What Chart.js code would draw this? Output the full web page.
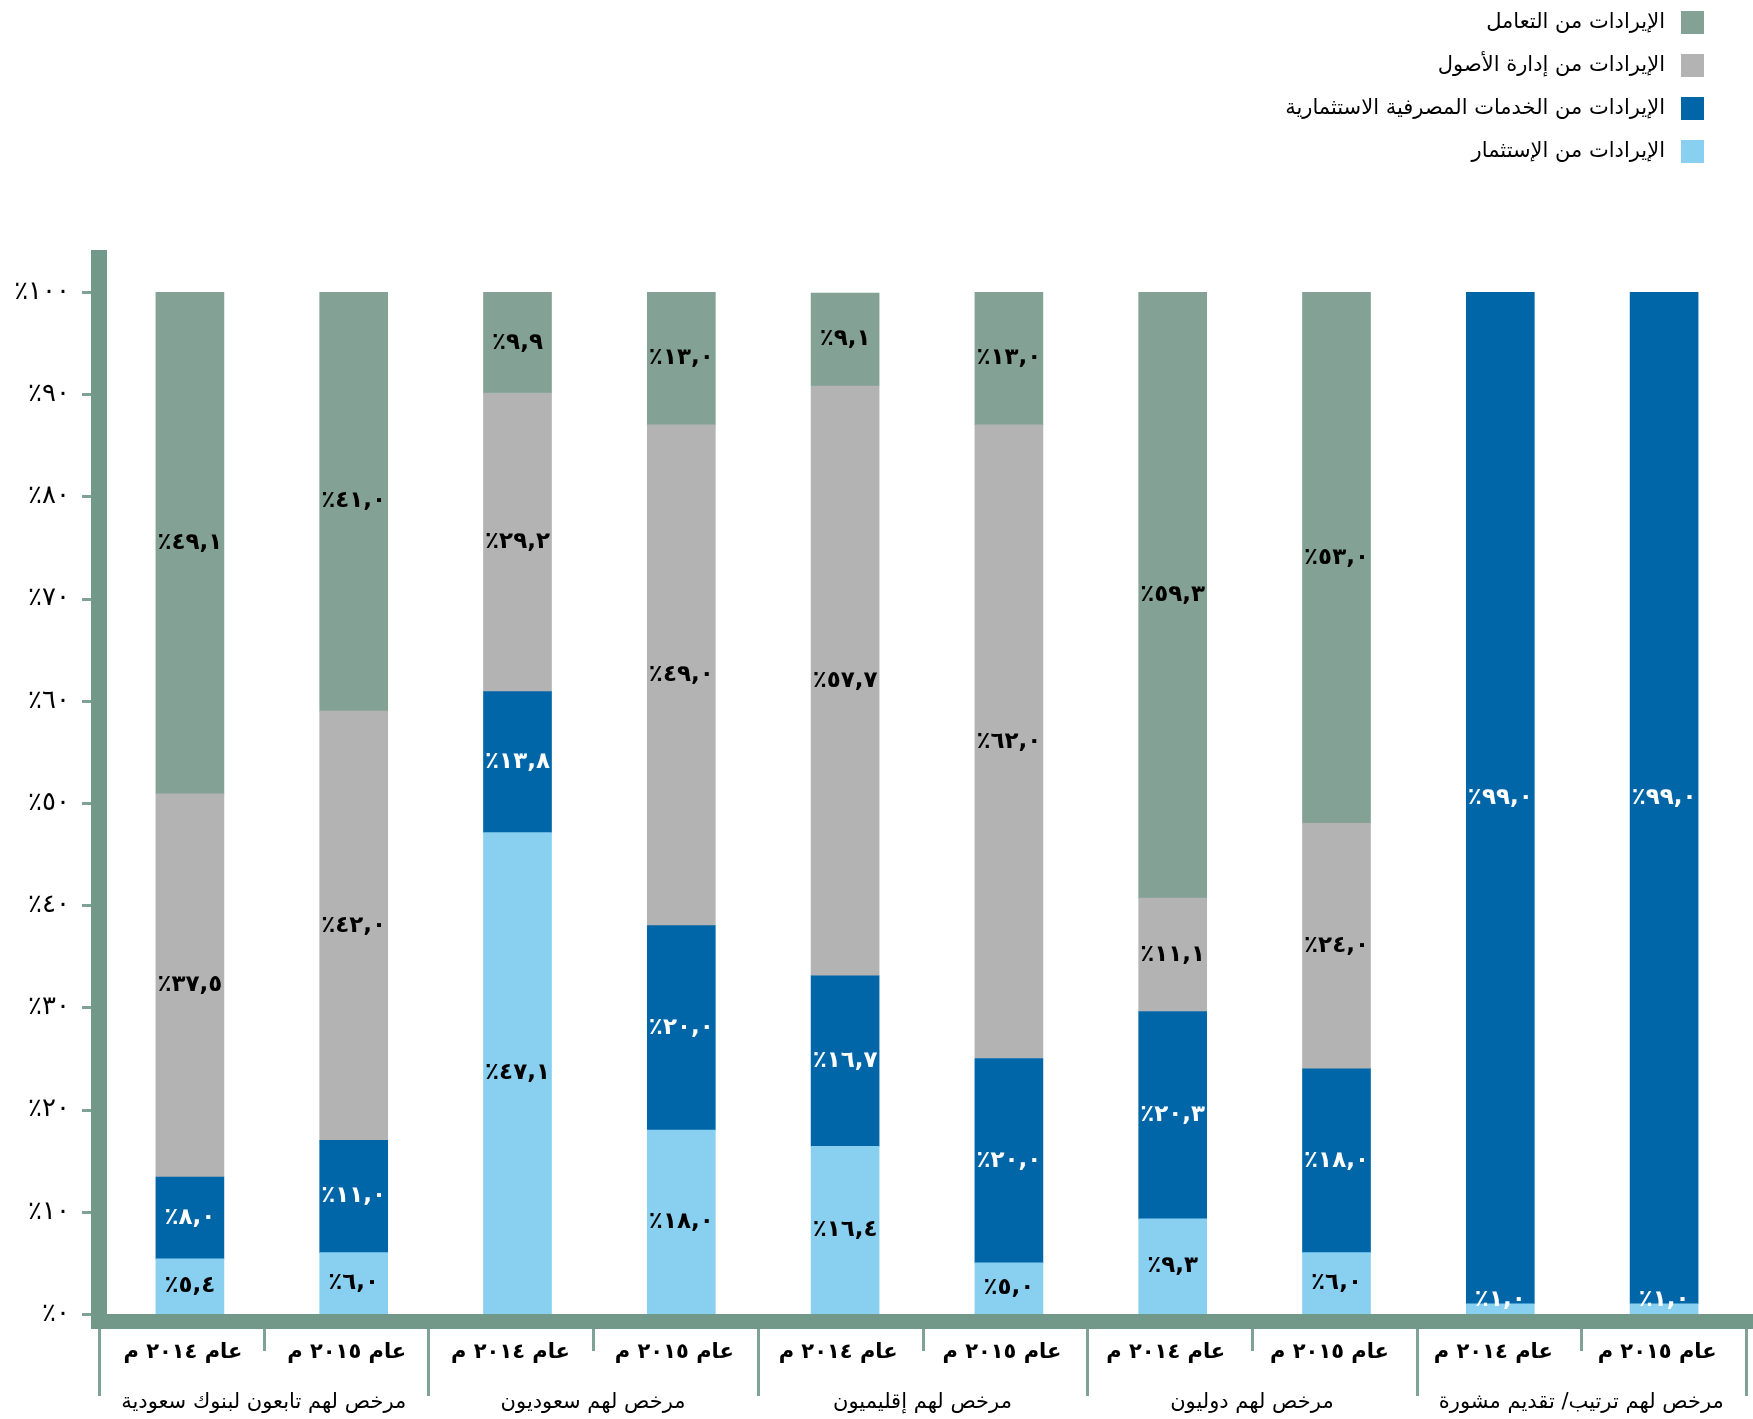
<!DOCTYPE html>
<html lang="ar">
<head>
<meta charset="utf-8">
<title>الإيرادات حسب فئة المرخص لهم</title>
<script src="https://cdn.jsdelivr.net/npm/chart.js@4.4.1/dist/chart.umd.min.js"></script>
<style>
  html, body { margin: 0; padding: 0; background: #fff; }
  #wrap { width: 1753px; height: 1419px; position: relative; }
</style>
</head>
<body>
<div id="wrap"><canvas id="grafico"></canvas></div>
<script>
// Categorias: um ano por barra, dois anos por grupo de mercado
const years = ['عام ٢٠١٤ م', 'عام ٢٠١٥ م', 'عام ٢٠١٤ م', 'عام ٢٠١٥ م', 'عام ٢٠١٤ م',
               'عام ٢٠١٥ م', 'عام ٢٠١٤ م', 'عام ٢٠١٥ م', 'عام ٢٠١٤ م', 'عام ٢٠١٥ م'];
const groups = ['مرخص لهم تابعون لبنوك سعودية', 'مرخص لهم سعوديون', 'مرخص لهم إقليميون',
                'مرخص لهم دوليون', 'مرخص لهم ترتيب/ تقديم مشورة'];

// Séries (%), de baixo para cima na pilha
const investmentRevenue = [5.4, 6.0, 47.1, 18.0, 16.4, 5.0, 9.3, 6.0, 1.0, 1.0];
const bankingRevenue    = [8.0, 11.0, 13.8, 20.0, 16.7, 20.0, 20.3, 18.0, 99.0, 99.0];
const assetMgmtRevenue  = [37.5, 42.0, 29.2, 49.0, 57.7, 62.0, 11.1, 24.0, null, null];
const dealingRevenue    = [49.1, 41.0, 9.9, 13.0, 9.1, 13.0, 59.3, 53.0, null, null];

const seriesNames = ['الإيرادات من الإستثمار', 'الإيرادات من الخدمات المصرفية الاستثمارية',
                     'الإيرادات من إدارة الأصول', 'الإيرادات من التعامل'];
const seriesColors = ['#89d0f0', '#0066a8', '#b3b3b3', '#83a295'];
const labelColors  = ['#000', '#fff', '#000', '#000'];

const AXIS_GREEN = '#729889';
const FONT = '"DejaVu Sans", sans-serif';
const arabicDigits = '٠١٢٣٤٥٦٧٨٩';

function toArabic(n, decimals) {
    return n.toFixed(decimals).replace('.', ',').replace(/\d/g, d => arabicDigits[d]);
}

// ===== PLUGINS =====
const axisFrame = {
    id: 'axisFrame',
    afterDraw(chart) {
        const { ctx, chartArea, scales } = chart;
        const y = scales.y;
        const bottom = chartArea.bottom;
        const axisX = chartArea.left - 17;   // borda esquerda da barra do eixo Y
        ctx.save();

        // marcas do eixo Y
        ctx.strokeStyle = '#7ea295';
        ctx.lineWidth = 3;
        y.ticks.forEach(t => {
            const py = Math.round(y.getPixelForValue(t.value)) + 0.5;
            ctx.beginPath();
            ctx.moveTo(axisX - 9, py);
            ctx.lineTo(axisX, py);
            ctx.stroke();
        });

        // barras grossas dos eixos
        ctx.fillStyle = AXIS_GREEN;
        ctx.fillRect(axisX, chartArea.top - 42, 16, bottom - chartArea.top + 57);
        ctx.fillRect(axisX + 1, bottom, chart.width - axisX, 15);

        // separadores entre anos (curtos) e entre grupos (longos)
        const sepLeft = axisX + 8;
        const step = (chartArea.right - sepLeft) / years.length;
        ctx.lineWidth = 3;
        for (let i = 0; i <= years.length; i++) {
            const px = Math.round(sepLeft + step * i) + 0.5;
            const len = i % 2 === 0 ? 67 : 22;
            ctx.beginPath();
            ctx.moveTo(px, bottom + 15);
            ctx.lineTo(px, bottom + 15 + len);
            ctx.stroke();
        }

        // nomes dos grupos, centrados entre os dois anos
        ctx.fillStyle = '#000';
        ctx.font = '21px ' + FONT;
        ctx.textAlign = 'center';
        ctx.textBaseline = 'middle';
        groups.forEach((g, i) => {
            ctx.fillText(g, sepLeft + step * (2 * i + 1), bottom + 89);
        });
        ctx.restore();
    }
};

const segmentLabels = {
    id: 'segmentLabels',
    afterDatasetsDraw(chart) {
        const ctx = chart.ctx;
        ctx.save();
        ctx.font = 'bold 23px ' + FONT;
        ctx.textAlign = 'center';
        ctx.textBaseline = 'middle';
        chart.data.datasets.forEach((ds, i) => {
            const meta = chart.getDatasetMeta(i);
            meta.data.forEach((bar, j) => {
                const v = ds.data[j];
                if (v == null) return;
                const top = Math.max(bar.y, chart.chartArea.top);
                const cy = Math.min((top + bar.base) / 2, bar.base - 14);
                ctx.fillStyle = v < 2 ? '#fff' : labelColors[i];
                ctx.fillText('٪' + toArabic(v, 1), bar.x, cy);
            });
        });
        ctx.restore();
    }
};

const sideLegend = {
    id: 'sideLegend',
    afterDraw(chart) {
        const ctx = chart.ctx;
        const boxRight = 1704, box = 23, rowGap = 43;
        ctx.save();
        ctx.font = '21px ' + FONT;
        ctx.textAlign = 'right';
        ctx.textBaseline = 'middle';
        const items = chart.data.datasets.slice().reverse();
        items.forEach((ds, i) => {
            const top = 11 + i * rowGap;
            ctx.fillStyle = ds.backgroundColor;
            ctx.fillRect(boxRight - box, top, box, box);
            ctx.fillStyle = '#000';
            ctx.fillText(ds.label, boxRight - box - 16, top + box / 2);
        });
        ctx.restore();
    }
};

// ===== GRÁFICO =====
const seriesData = [investmentRevenue, bankingRevenue, assetMgmtRevenue, dealingRevenue];

new Chart(document.getElementById('grafico'), {
    type: 'bar',
    data: {
        labels: years,
        datasets: seriesData.map((d, i) => ({
            label: seriesNames[i],
            data: d,
            backgroundColor: seriesColors[i],
            borderWidth: 0,
            barThickness: 68,
            clip: 0
        }))
    },
    options: {
        responsive: true,
        maintainAspectRatio: false,
        animation: false,
        layout: { padding: { top: 292, right: 7, left: 0, bottom: 0 } },
        plugins: { legend: { display: false }, tooltip: { enabled: false } },
        scales: {
            x: {
                stacked: true,
                grid: { display: false },
                border: { display: false },
                ticks: {
                    color: '#000',
                    font: { family: FONT, size: 21, weight: 'bold' },
                    padding: 18,
                    labelOffset: -7,
                    maxRotation: 0,
                    autoSkip: false
                },
                afterFit: s => { s.height = 105; }
            },
            y: {
                stacked: true,
                min: 0,
                max: 100,
                grid: { display: false },
                border: { display: false },
                ticks: {
                    stepSize: 10,
                    color: '#000',
                    font: { family: FONT, size: 26 },
                    padding: 30,
                    callback: v => '٪' + toArabic(v, 0)
                },
                afterFit: s => { s.width = 108; }
            }
        }
    },
    plugins: [axisFrame, segmentLabels, sideLegend]
});
</script>
</body>
</html>
